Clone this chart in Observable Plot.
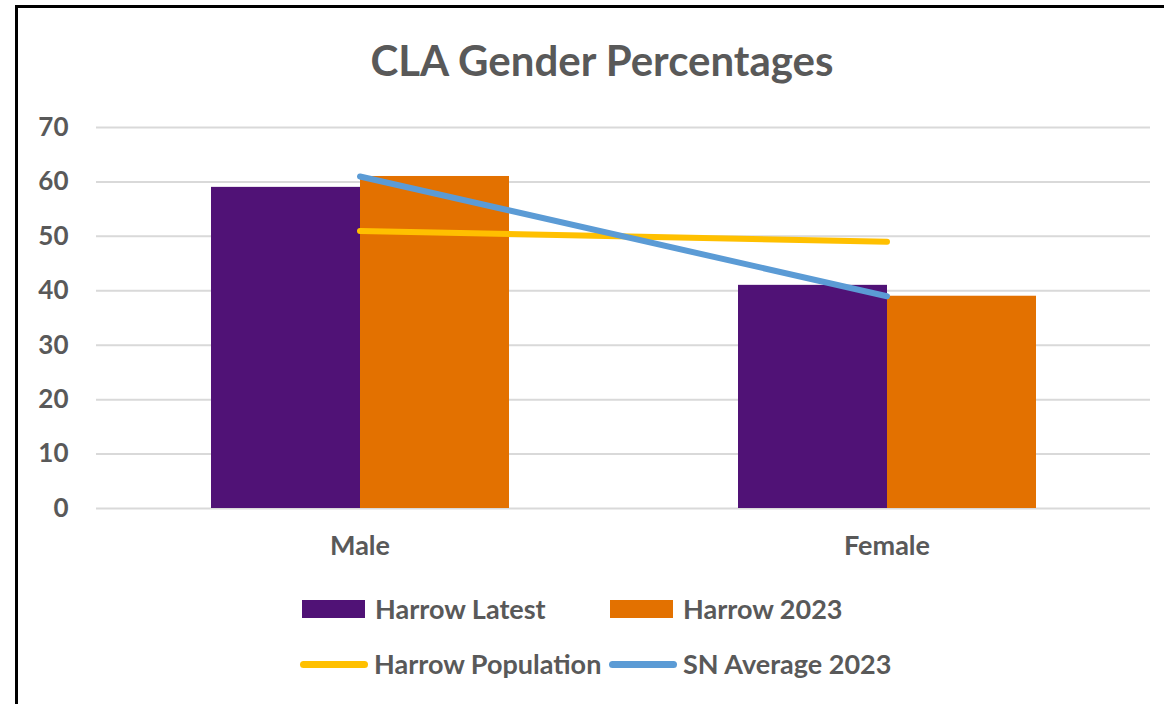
<!DOCTYPE html>
<html><head><meta charset="utf-8">
<script src="https://cdn.jsdelivr.net/npm/d3@7"></script>
<script src="https://cdn.jsdelivr.net/npm/@observablehq/plot@0.6"></script>
<style>
body{margin:0;background:#fff;font-family:Lato,sans-serif;overflow:hidden;width:1164px;height:704px;}
#frame{position:absolute;left:15px;top:5px;width:1160px;height:720px;border-top:3px solid #000;border-left:3px solid #000;box-sizing:border-box;}
#title{position:absolute;left:20px;top:35px;width:1164px;text-align:center;font:700 42px Lato,sans-serif;color:#595959;line-height:50px;}
.layer{position:absolute;left:0;top:100px;}
.leg{position:absolute;display:flex;align-items:center;font:700 27px Lato,sans-serif;color:#595959;line-height:30px;white-space:nowrap;}
.sw{display:inline-block;}
</style></head>
<body>
<div id="frame"></div>
<div id="title">CLA Gender Percentages</div>
<div id="bars" class="layer"></div>
<div id="lines" class="layer"></div>
<div id="legend"></div>
<script>
// ---- data ----
const genders = ["Male", "Female"];
const barSeries = ["Harrow Latest", "Harrow 2023"];
const harrowLatest = [59, 41];
const harrow2023 = [61, 39];
const lineSeries = ["Harrow Population", "SN Average 2023"];
const harrowPopulation = [51, 49];
const snAverage2023 = [61, 39];
const yTicks = [0, 10, 20, 30, 40, 50, 60, 70];
const barColors = ["#501276", "#E37100"];
const lineColors = ["#FFC000", "#5B9BD5"];

const barData = [];
genders.forEach((g, i) => {
  barData.push({gender: g, series: barSeries[0], value: harrowLatest[i]});
  barData.push({gender: g, series: barSeries[1], value: harrow2023[i]});
});
const lineData = [];
genders.forEach((g, i) => {
  lineData.push({gender: g, series: lineSeries[0], value: harrowPopulation[i]});
  lineData.push({gender: g, series: lineSeries[1], value: snAverage2023[i]});
});

const W = 1164, H = 470, mt = 27, mb = 62, ml = 96, mr = 14;
const font = {fontFamily: "Lato, sans-serif", fontWeight: 700, color: "#595959", background: "transparent", overflow: "visible"};

const barPlot = Plot.plot({
  width: W, height: H, marginTop: mt, marginBottom: mb, marginLeft: ml, marginRight: mr,
  style: font,
  fx: {domain: genders, padding: 0},
  x: {domain: barSeries, paddingInner: 0, paddingOuter: 0.757, axis: null},
  y: {domain: [0, 70]},
  color: {domain: barSeries, range: barColors},
  marks: [
    Plot.gridY(yTicks, {stroke: "#d9d9d9", strokeOpacity: 1, strokeWidth: 2}),
    Plot.barY(barData, {fx: "gender", x: "series", y: "value", fill: "series"}),
    Plot.axisY(yTicks, {tickSize: 0, tickPadding: 28, fontSize: 26, fill: "#595959", label: null}),
    Plot.axisFx({anchor: "bottom", tickSize: 0, tickPadding: 27, fontSize: 27, fill: "#595959", label: null})
  ]
});
document.getElementById("bars").appendChild(barPlot);

const linePlot = Plot.plot({
  width: W, height: H, marginTop: mt, marginBottom: mb, marginLeft: ml, marginRight: mr,
  style: font,
  x: {type: "band", domain: genders, padding: 0, axis: null},
  y: {domain: [0, 70], axis: null},
  color: {domain: lineSeries, range: lineColors},
  marks: [
    Plot.line(lineData, {x: "gender", y: "value", z: "series", stroke: "series", strokeWidth: 6, strokeLinecap: "round"})
  ]
});
document.getElementById("lines").appendChild(linePlot);

// ---- legend ----
const legendItems = [
  {label: barSeries[0], color: barColors[0], kind: "bar", left: 302, top: 594},
  {label: barSeries[1], color: barColors[1], kind: "bar", left: 610, top: 594},
  {label: lineSeries[0], color: lineColors[0], kind: "line", left: 300, top: 649},
  {label: lineSeries[1], color: lineColors[1], kind: "line", left: 609, top: 649}
];
const leg = document.getElementById("legend");
legendItems.forEach(it => {
  const d = document.createElement("div");
  d.className = "leg";
  d.style.left = it.left + "px";
  d.style.top = it.top + "px";
  const s = document.createElement("span");
  s.className = "sw";
  if (it.kind === "bar") {
    s.style.width = "63px"; s.style.height = "18px"; s.style.background = it.color; s.style.marginRight = "10px";
  } else {
    s.style.width = "68px"; s.style.height = "7px"; s.style.background = it.color; s.style.borderRadius = "4px"; s.style.marginRight = "6px";
  }
  d.appendChild(s);
  const t = document.createElement("span");
  t.textContent = it.label;
  d.appendChild(t);
  leg.appendChild(d);
});
</script>
</body></html>
